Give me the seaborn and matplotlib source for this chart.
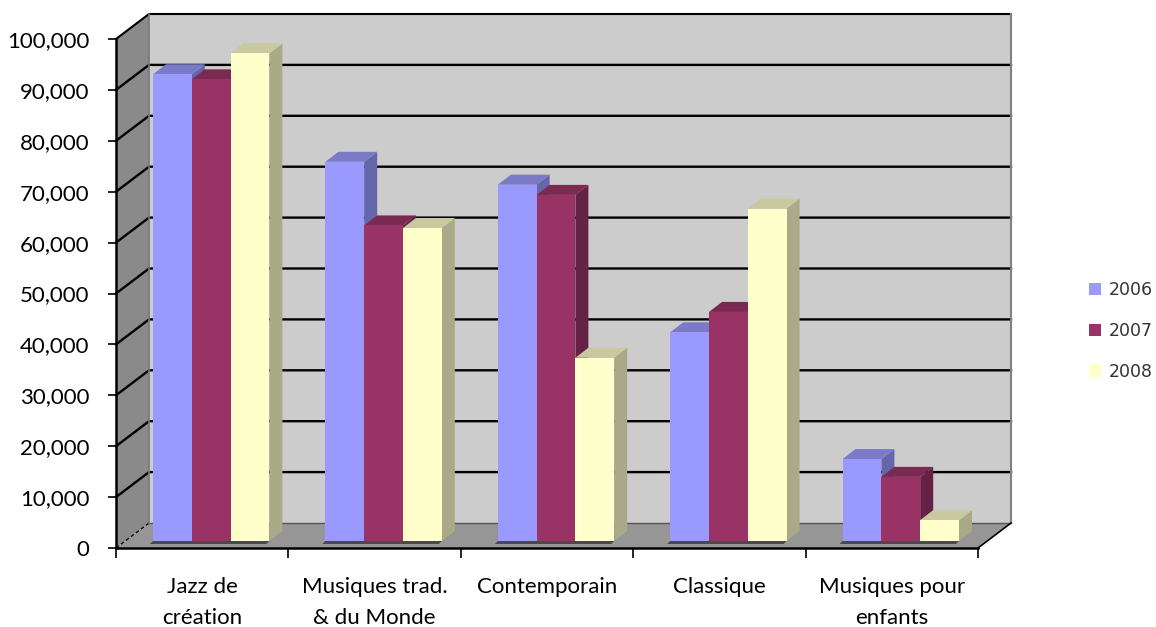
import matplotlib
matplotlib.use("Agg")
import matplotlib.pyplot as plt
import pandas as pd
import seaborn as sns
from matplotlib.patches import Polygon
from matplotlib.transforms import Affine2D, IdentityTransform

categories = ["Jazz de\ncréation", "Musiques trad.\n& du Monde", "Contemporain", "Classique", "Musiques pour\nenfants"]
values_2006 = [91700, 74500, 70000, 41000, 16100]
values_2007 = [90700, 62000, 68000, 45000, 12600]
values_2008 = [95800, 61500, 36000, 65300, 4100]
years = ["2006", "2007", "2008"]
y_ticks = list(range(0, 100001, 10000))

front_colors = ["#9999FF", "#993366", "#FFFFCC"]
top_colors = ["#7A7AC9", "#7A2951", "#C9C99F"]
side_colors = ["#6666AA", "#662244", "#AAAA88"]

df = pd.DataFrame({"category": categories * 3,
                   "year": [y for y in years for _ in categories],
                   "value": values_2006 + values_2007 + values_2008})

W, H = 1156, 627
fig = plt.figure(figsize=(W / 100, H / 100), dpi=100)
ax = fig.add_axes([116 / W, 1 - 548 / H, 862 / W, 509 / H])
ax.patch.set_visible(False)

sns.barplot(data=df, x="category", y="value", hue="year", palette=front_colors,
            width=0.675, gap=0, saturation=1, linewidth=0, ax=ax)
ax.set_xlim(-0.5, 4.5)
ax.set_ylim(0, 100000)
ax.set_xlabel("")
ax.set_ylabel("")


def px(x, y):
    return tuple(ax.transData.transform((x, y)))


def poly(points, color, z):
    ax.add_artist(Polygon(points, closed=True, facecolor=color, edgecolor="none", linewidth=0,
                          transform=IdentityTransform(), zorder=z, clip_on=False))


def line(points, color="black", lw=1.8, z=1.5, ls="-"):
    xs, ys = zip(*points)
    ax.add_artist(plt.Line2D(xs, ys, color=color, linewidth=lw, linestyle=ls,
                             transform=IdentityTransform(), zorder=z, clip_on=False))


# 3d box behind the bars
DX, DY = 33, 25
x0, y0 = px(-0.5, 0)
x1, y1 = px(4.5, 100000)
poly([(x0 + DX, y0 + DY), (x1 + DX, y0 + DY), (x1 + DX, y1 + DY), (x0 + DX, y1 + DY)], "#CCCCCC", 1)
poly([(x0, y0), (x0 + DX, y0 + DY), (x0 + DX, y1 + DY), (x0, y1)], "#8A8A8A", 1)
poly([(x0, y0), (x1, y0), (x1 + DX, y0 + DY), (x0 + DX, y0 + DY)], "#969696", 1)

for t in y_ticks[1:]:
    xa, ya = px(-0.5, t)
    xb, _ = px(4.5, t)
    line([(xa, ya), (xa + DX, ya + DY), (xb + DX, ya + DY)], lw=1.7 if t < 100000 else 1.5)
line([(x0, y0), (x0 + DX, y0 + DY)], lw=0.9, ls=(0, (3, 2)))
line([(x0 + DX, y0 + DY), (x1 + DX, y0 + DY)], color="#555555", lw=1)
line([(x0 + DX, y0 + DY), (x0 + DX, y1 + DY)], color="#777777", lw=1.2)
line([(x1 + DX, y0 + DY), (x1 + DX, y1 + DY)], color="#808080", lw=1.5)
line([(x1, y0), (x1 + DX, y0 + DY)], lw=1.2)

# bars: seaborn draws the fronts, sides and tops follow from each patch
BX, BY = 9, 7
SX, SY = 13, 10
shift = ax.transData + Affine2D().translate(BX, BY)
for i, cont in enumerate(ax.containers):
    for p in cont:
        xl, xr = p.get_x(), p.get_x() + p.get_width()
        h = p.get_height()
        (l, b), (r, t) = px(xl, 0), px(xr, h)
        l += BX; r += BX; b += BY; t += BY
        poly([(r, b), (r + SX, b + SY), (r + SX, t + SY), (r, t)], side_colors[i], 3 + i)
        poly([(l, t), (r, t), (r + SX, t + SY), (l + SX, t + SY)], top_colors[i], 3 + i)
        p.set_transform(shift)
        p.set_clip_on(False)
        p.set_zorder(3.5 + i)

# dark foot under each group
for first, last in zip(ax.containers[0], ax.containers[2]):
    l, b = px(first.get_x(), 0)
    r, _ = px(last.get_x() + last.get_width(), 0)
    l += BX; r += BX; b += BY
    poly([(l - 3, b - 3), (r - 3, b - 3), (r, b), (l, b)], "#4A4A4A", 2.5)

# axes
sns.despine(ax=ax, top=True, right=True)
ax.spines["left"].set_linewidth(1.8)
ax.spines["bottom"].set_linewidth(1.8)
ax.spines["left"].set_zorder(8)
ax.spines["bottom"].set_zorder(8)
ax.set_yticks(y_ticks)
ax.set_yticklabels([f"{t:,}" for t in y_ticks], family="Lato", fontsize=16, color="black")
ax.tick_params(axis="y", length=6, width=1.2, pad=13)
ax.set_xticks(range(len(categories)))
ax.set_xticklabels(categories, family="Lato", fontsize=16, color="black", linespacing=1.65)
ax.set_xticks([i - 0.5 for i in range(len(categories) + 1)], minor=True)
ax.tick_params(axis="x", which="major", length=0, pad=21)
ax.tick_params(axis="x", which="minor", length=7, width=1.2)

ax.legend(loc="center left", bbox_to_anchor=(1089 / W, 1 - 331 / H), bbox_transform=fig.transFigure,
          frameon=False, fontsize=12.5, labelcolor="#333333", handlelength=0.7, handleheight=0.7,
          handletextpad=0.45, labelspacing=1.3, borderpad=0, borderaxespad=0, title=None)

fig.savefig("out.png", dpi=100)
